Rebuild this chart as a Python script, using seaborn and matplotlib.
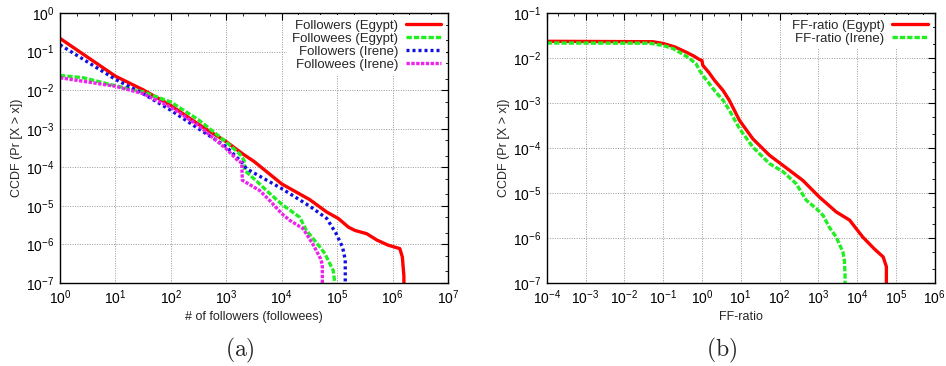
import numpy as np
import pandas as pd
import matplotlib
matplotlib.use("Agg")
import matplotlib.pyplot as plt
import seaborn as sns

# ---- (a) CCDF of # of followers / followees ----
fol_egypt_x = [1, 10, 31.6, 100, 316, 1000, 2000, 3200, 1e4, 3.2e4, 6.5e4, 1.05e5,
               1.6e5, 2.1e5, 3.4e5, 5.2e5, 8.4e5, 1.35e6, 1.5e6, 1.6e6, 1.6e6]
fol_egypt_y = [0.22, 0.023, 0.0102, 0.004, 0.0013, 4.6e-4, 2.2e-4, 1.4e-4, 3.7e-5,
               1.45e-5, 6.9e-6, 4.7e-6, 2.8e-6, 2.3e-6, 1.9e-6, 1.3e-6, 9.5e-7,
               7.8e-7, 4.7e-7, 1.5e-7, 5e-8]

fee_egypt_x = [1, 2.6, 10, 31.6, 100, 316, 1000, 1750, 2100, 2150, 4000, 5300, 1e4,
               2.1e4, 2.8e4, 4.9e4, 6e4, 8.5e4, 9e4, 9e4]
fee_egypt_y = [0.024, 0.021, 0.013, 0.009, 0.0049, 0.0017, 4.5e-4, 2.2e-4, 1.5e-4,
               8.3e-5, 3.7e-5, 2.5e-5, 1.1e-5, 5.1e-6, 2.3e-6, 8.5e-7, 5.8e-7,
               2.1e-7, 1.1e-7, 5e-8]

fol_irene_x = [1, 10, 31.6, 100, 316, 1000, 2000, 2300, 1e4, 3.2e4, 6.5e4, 9.6e4,
               1.25e5, 1.4e5, 1.4e5]
fol_irene_y = [0.15, 0.019, 0.0081, 0.003, 1e-3, 3.4e-4, 1.25e-4, 9.2e-5, 2.8e-5,
               9.8e-6, 4.7e-6, 1.9e-6, 8.5e-7, 4e-7, 5e-8]

fee_irene_x = [1, 10, 31.6, 100, 316, 1000, 1650, 1900, 1950, 4000, 6000, 1e4,
               1.4e4, 2.4e4, 3.6e4, 5e4, 5.4e4, 5.4e4]
fee_irene_y = [0.021, 0.0126, 0.0081, 0.0036, 0.0012, 3.0e-4, 1.45e-4, 1.3e-4,
               4.6e-5, 2.5e-5, 1.4e-5, 6.3e-6, 4.2e-6, 2.6e-6, 1.05e-6, 4.3e-7,
               3e-7, 5e-8]

# ---- (b) CCDF of FF-ratio ----
ff_egypt_x = [1e-4, 0.054, 0.1, 0.2, 0.39, 0.6, 0.87, 1.0, 1.05, 1.5, 2.1, 3.5, 5.1,
              9.3, 20.5, 55, 180, 400, 1070, 2900, 6400, 1.4e4, 2.8e4, 4.7e4,
              5.7e4, 5.7e4]
ff_egypt_y = [0.0235, 0.023, 0.021, 0.0176, 0.0135, 0.0112, 0.0092, 0.0088,
              0.0069, 0.0048, 0.0032, 0.0019, 0.00114, 4.1e-4, 1.6e-4, 6.9e-5,
              3.2e-5, 1.9e-5, 8.1e-6, 3.8e-6, 2.5e-6, 1.05e-6, 5.7e-7, 3.8e-7,
              2.3e-7, 5e-8]

ff_irene_x = [1e-4, 0.045, 0.1, 0.18, 0.26, 0.45, 0.7, 0.87, 1.05, 1.5, 2.1, 3.5,
              5.1, 9.3, 20.5, 55, 122, 270, 490, 890, 1320, 1950, 2900, 4300, 4700,
              4900, 4900]
ff_irene_y = [0.0215, 0.0213, 0.019, 0.0162, 0.0135, 0.0102, 0.0075, 0.0053,
              0.0041, 0.0028, 0.0019, 0.00115, 6.9e-4, 2.7e-4, 1.05e-4, 4.5e-5,
              3e-5, 1.6e-5, 6.9e-6, 4.5e-6, 3.2e-6, 1.7e-6, 1.05e-6, 4.9e-7,
              3.2e-7, 1.5e-7, 5e-8]

sns.set_style("white")
plt.rcParams['font.family'] = ['Liberation Sans', 'DejaVu Sans']
plt.rcParams['mathtext.fontset'] = 'custom'
plt.rcParams['mathtext.rm'] = 'Liberation Sans'

fig = plt.figure(figsize=(9.46, 3.66), dpi=100)
ax1 = fig.add_axes([0.0634, 0.2268, 0.4102, 0.7377])
ax2 = fig.add_axes([0.578, 0.2268, 0.410, 0.7377])

series_a = [
    ("Followers (Egypt)", fol_egypt_x, fol_egypt_y, "#ff0000", "-"),
    ("Followees (Egypt)", fee_egypt_x, fee_egypt_y, "#22ee22", (0, (1.6, 0.6))),
    ("Followers (Irene)", fol_irene_x, fol_irene_y, "#1010e0", (0, (0.9, 0.9))),
    ("Followees (Irene)", fee_irene_x, fee_irene_y, "#ee22ee", (0, (1.0, 0.45))),
]
series_b = [
    ("FF-ratio (Egypt)", ff_egypt_x, ff_egypt_y, "#ff0000", "-"),
    ("FF-ratio (Irene)", ff_irene_x, ff_irene_y, "#22ee22", (0, (1.6, 0.6))),
]

def draw(ax, series):
    for label, xs, ys, c, ls in series:
        sns.lineplot(x=xs, y=ys, ax=ax, estimator=None, sort=False, color=c,
                     linestyle=ls, linewidth=2.4, label=label)

draw(ax1, series_a)
draw(ax2, series_b)

for ax, xlim, ylim, xlabel in [(ax1, (1, 1e7), (1e-7, 1), "# of followers (followees)"),
                               (ax2, (1e-4, 1e6), (1e-7, 1e-1), "FF-ratio")]:
    ax.set_xscale("log")
    ax.set_yscale("log")
    ax.set_xlim(*xlim)
    ax.set_ylim(*ylim)
    ax.xaxis.set_major_locator(matplotlib.ticker.LogLocator(base=10, numticks=20))
    ax.yaxis.set_major_locator(matplotlib.ticker.LogLocator(base=10, numticks=20))
    ax.xaxis.set_minor_locator(matplotlib.ticker.LogLocator(base=10, subs=[2, 5], numticks=20))
    ax.yaxis.set_minor_locator(matplotlib.ticker.LogLocator(base=10, subs=[2, 5], numticks=20))
    ax.xaxis.set_minor_formatter(matplotlib.ticker.NullFormatter())
    ax.yaxis.set_minor_formatter(matplotlib.ticker.NullFormatter())
    ax.grid(True, which="major", color="#999999", linestyle=(0, (1, 1.5)), linewidth=0.7)
    ax.tick_params(which="both", direction="in", top=True, right=True, labelsize=10,
                   colors="black", pad=4)
    ax.tick_params(which="major", length=5, width=0.8)
    ax.tick_params(which="minor", length=2.5, width=0.6)
    for s in ax.spines.values():
        s.set_color("black")
        s.set_linewidth(1.0)
    ax.set_xlabel(xlabel, fontsize=9, labelpad=3)
    ax.set_ylabel("CCDF (Pr [X > x])", fontsize=9, labelpad=2)
    leg = ax.legend(loc="upper right", markerfirst=False, fontsize=9.5, frameon=True,
                    handlelength=2.7, handletextpad=0.6, labelspacing=0.05,
                    borderaxespad=0.15, borderpad=0.35, fancybox=False)
    leg.get_frame().set_facecolor("white")
    leg.get_frame().set_edgecolor("none")
    leg.get_frame().set_alpha(1)

fig.text(0.2537, 0.043, r"$\mathrm{(a)}$", fontsize=17, math_fontfamily="cm",
         ha="center", va="center")
fig.text(0.763, 0.043, r"$\mathrm{(b)}$", fontsize=17, math_fontfamily="cm",
         ha="center", va="center")

fig.savefig("out.png", dpi=100)
